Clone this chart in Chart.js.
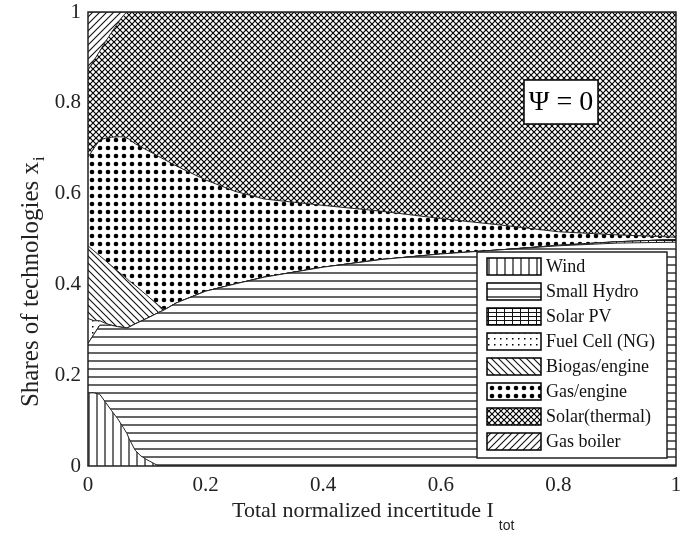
<!DOCTYPE html>
<html><head><meta charset="utf-8">
<script src="https://cdn.jsdelivr.net/npm/chart.js@4/dist/chart.umd.min.js"></script>
<style>html,body{margin:0;padding:0;background:#fff}#wrap{width:699px;height:536px}</style>
</head><body><div id="wrap"><canvas id="c" width="699" height="536"></canvas></div>
<script>
// Total normalized incertitude (x positions)
const xVals = [0,0.01,0.02,0.03,0.04,0.05,0.06,0.066,0.07,0.08,0.09,0.1,0.12,0.13,0.15,0.2,0.25,0.3,0.4,0.5,0.6,0.7,0.8,0.9,1];
// Shares of each technology (stacked, bottom to top)
const wind        = [0.161,0.161,0.158,0.140,0.122,0.105,0.085,0.072,0.060,0.035,0.022,0.014,0,0,0,0,0,0,0,0,0,0,0,0,0];
const smallHydro  = [0.109,0.129,0.152,0.170,0.188,0.202,0.220,0.232,0.246,0.278,0.297,0.311,0.338,0.344,0.359,0.385,0.401,0.416,0.438,0.455,0.467,0.476,0.485,0.491,0.493];
const solarPV     = [0,0,0,0,0,0,0,0,0,0,0,0,0,0,0,0,0,0,0,0,0,0,0.001,0.003,0.006];
const fuelCell    = [0.055,0.030,0.010,0.004,0,0,0,0,0,0,0,0,0,0,0,0,0,0,0,0,0,0,0,0,0];
const biogas      = [0.160,0.154,0.143,0.138,0.131,0.123,0.114,0.109,0.102,0.085,0.068,0.051,0.016,0,0,0,0,0,0,0,0,0,0,0,0];
const gasEngine   = [0.195,0.226,0.255,0.270,0.283,0.295,0.306,0.309,0.312,0.312,0.316,0.320,0.328,0.331,0.302,0.245,0.204,0.172,0.136,0.106,0.078,0.055,0.030,0.015,0.005];
const solarTherm  = [0.192,0.193,0.196,0.213,0.231,0.249,0.267,0.278,0.280,0.290,0.297,0.304,0.318,0.325,0.339,0.370,0.395,0.412,0.426,0.439,0.455,0.469,0.484,0.491,0.496];
const gasBoiler   = [0.128,0.107,0.086,0.065,0.045,0.026,0.008,0,0,0,0,0,0,0,0,0,0,0,0,0,0,0,0,0,0];
const seriesNames = ['Wind','Small Hydro','Solar PV','Fuel Cell (NG)','Biogas/engine','Gas/engine','Solar(thermal)','Gas boiler'];
const tickVals = [0,0.2,0.4,0.6,0.8,1];

const canvas = document.getElementById('c');
const ctx0 = canvas.getContext('2d');
function pat(w,h,draw){
  const c=document.createElement('canvas');c.width=w;c.height=h;
  const g=c.getContext('2d');g.fillStyle='#fff';g.fillRect(0,0,w,h);
  g.strokeStyle='#111';g.fillStyle='#000';draw(g);
  return ctx0.createPattern(c,'repeat');
}
const P = [
  pat(8,8,g=>{g.lineWidth=1.2;g.beginPath();g.moveTo(1,0);g.lineTo(1,8);g.stroke();}),
  pat(8,8,g=>{g.lineWidth=1.3;g.beginPath();g.moveTo(0,1);g.lineTo(8,1);g.stroke();}),
  pat(8,4,g=>{g.lineWidth=1;g.beginPath();g.moveTo(0,0.5);g.lineTo(8,0.5);g.moveTo(0.5,0);g.lineTo(0.5,4);g.stroke();}),
  pat(6,6,g=>{g.fillRect(2,2,1.5,1.5);}),
  pat(7,7,g=>{g.lineWidth=1.1;g.beginPath();g.moveTo(-1,-1);g.lineTo(8,8);g.moveTo(-1,6);g.lineTo(1,8);g.moveTo(6,-1);g.lineTo(8,1);g.stroke();}),
  pat(8,8,g=>{g.beginPath();g.arc(4,4,2.3,0,Math.PI*2);g.fill();}),
  pat(6,6,g=>{g.lineWidth=1.15;g.strokeStyle='#000';g.beginPath();g.moveTo(-1,-1);g.lineTo(7,7);g.moveTo(-1,7);g.lineTo(7,-1);g.stroke();}),
  pat(7,7,g=>{g.lineWidth=1.1;g.beginPath();g.moveTo(-1,8);g.lineTo(8,-1);g.moveTo(-1,1);g.lineTo(1,-1);g.moveTo(6,8);g.lineTo(8,6);g.stroke();})
];
const vals = [wind,smallHydro,solarPV,fuelCell,biogas,gasEngine,solarTherm,gasBoiler];
const datasets = vals.map((arr,i)=>({
  label: seriesNames[i],
  data: arr.map((v,j)=>({x:xVals[j],y:v})),
  backgroundColor: P[i],
  borderColor: '#222',
  borderWidth: 1,
  pointRadius: 0,
  tension: 0,
  fill: i===0 ? 'origin' : '-1'
}));

const SERIF = '"Liberation Serif", "Times New Roman", serif';
const deco = {
  id:'deco',
  afterDatasetsDraw(chart){
    const c=chart.ctx, a=chart.chartArea;
    c.save();
    // frame
    c.strokeStyle='#222';c.lineWidth=1.5;
    c.strokeRect(a.left,a.top,a.right-a.left,a.bottom-a.top);
    // Psi box
    c.fillStyle='#fff';c.fillRect(524,80,74,44);
    c.strokeStyle='#000';c.lineWidth=1.5;c.strokeRect(524,80,74,44);
    c.fillStyle='#000';c.font='28px '+SERIF;c.textAlign='center';c.textBaseline='middle';
    c.fillText('\u03A8 = 0',561,103);
    // legend
    c.fillStyle='#fff';c.fillRect(477,252,190,206);
    c.strokeStyle='#222';c.lineWidth=1.5;c.strokeRect(477,252,190,206);
    c.font='18px '+SERIF;c.textAlign='left';c.textBaseline='middle';
    chart.data.datasets.forEach((ds,i)=>{
      const y=258+i*25;
      c.fillStyle=ds.backgroundColor;c.fillRect(487,y,54,17);
      c.strokeStyle='#000';c.lineWidth=1.5;c.strokeRect(487,y,54,17);
      c.fillStyle='#111';c.fillText(ds.label,546,y+9);
    });
    // axis titles
    c.fillStyle='#222';c.font='22px '+SERIF;c.textAlign='left';c.textBaseline='alphabetic';
    const xt='Total normalized incertitude I';
    c.fillText(xt,232,517);
    const w=c.measureText(xt).width;
    c.font='14px "Liberation Sans", Arial, sans-serif';
    c.fillText('tot',232+w+5,530);
    c.font='25px '+SERIF;
    const yt='Shares of technologies x';
    const w2=c.measureText(yt).width;
    c.translate(38,280+(w2+9)/2);c.rotate(-Math.PI/2);
    c.fillText(yt,0,0);
    c.font='16px '+SERIF;
    c.fillText('i',w2+1,6);
    c.restore();
  }
};

new Chart(canvas,{
  type:'line',
  data:{datasets},
  options:{
    responsive:false,animation:false,
    layout:{padding:{left:0,right:23,top:12,bottom:0}},
    plugins:{legend:{display:false},tooltip:{enabled:false}},
    scales:{
      x:{type:'linear',min:0,max:1,
        afterBuildTicks:s=>{s.ticks=tickVals.map(v=>({value:v}));},
        afterFit:s=>{s.height=70;s.paddingLeft=0;s.paddingRight=0;},
        grid:{display:false,drawTicks:false},border:{display:false},
        ticks:{padding:7,color:'#222',font:{family:SERIF,size:21},maxRotation:0,autoSkip:false,
          callback:v=>String(Math.round(v*10)/10)}},
      y:{stacked:true,min:0,max:1,
        afterBuildTicks:s=>{s.ticks=tickVals.map(v=>({value:v}));},
        afterFit:s=>{s.width=88;s.paddingTop=0;s.paddingBottom=0;},
        grid:{display:false,drawTicks:false},border:{display:false},
        ticks:{padding:7,color:'#222',font:{family:SERIF,size:21},
          callback:v=>String(Math.round(v*10)/10)}}
    }
  },
  plugins:[deco]
});
</script></body></html>
